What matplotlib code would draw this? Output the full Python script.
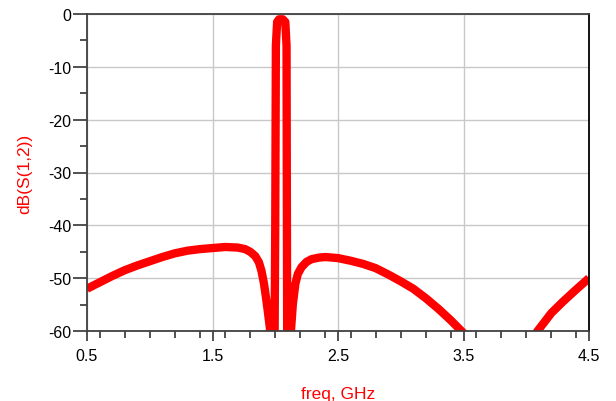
import numpy as np
import matplotlib.pyplot as plt
from matplotlib.ticker import MultipleLocator

# S(1,2), values under -60 are off the chart (clipped)
freq = [0.5, 0.6, 0.7, 0.8, 0.9, 1.0, 1.1, 1.2, 1.3, 1.4, 1.5, 1.6, 1.7,
        1.76, 1.80, 1.84, 1.87, 1.89, 1.91, 1.93, 1.95, 1.96, 1.975,
        1.995, 2.0, 2.005, 2.015, 2.03, 2.06, 2.08, 2.09, 2.092, 2.095,
        2.11, 2.125, 2.14, 2.16, 2.18, 2.21, 2.25, 2.29, 2.35, 2.40, 2.5,
        2.6, 2.7, 2.8, 2.9, 3.0, 3.1, 3.2, 3.3, 3.4, 3.5, 3.6, 3.8,
        4.0, 4.09, 4.2, 4.29, 4.4, 4.5]
db_s12 = [-52.0, -50.8, -49.6, -48.5, -47.6, -46.8, -46.0, -45.3, -44.8, -44.5,
          -44.3, -44.1, -44.2, -44.5, -45.0, -45.8, -47.0, -48.6, -51.0, -54.3,
          -58.0, -60.0, -70.0,
          -60.0, -40.0, -6.0, -1.5, -1.0, -1.0, -1.5, -6.0, -30.0, -60.0,
          -70.0, -60.0, -55.0, -51.1, -49.2, -47.9, -46.9, -46.4, -46.1, -46.0,
          -46.2, -46.7, -47.3, -48.1, -49.3, -50.6, -52.0, -53.8, -55.8, -58.0,
          -60.4, -63.0, -70.0,
          -63.0, -60.0, -56.6, -54.5, -52.1, -50.0]

xticks = [0.5, 1.5, 2.5, 3.5, 4.5]
yticks = [0, -10, -20, -30, -40, -50, -60]

plt.rcParams['font.family'] = ['Liberation Sans', 'DejaVu Sans']

fig = plt.figure(figsize=(6.16, 4.02), dpi=100)
ax = fig.add_axes([87/616, 1 - 332/402, (589-87)/616, (332-15)/402])

ax.plot(freq, db_s12, color='#ff0000', lw=6, solid_joinstyle='round',
        solid_capstyle='butt')

ax.set_xlim(0.5, 4.5)
ax.set_ylim(-60, 0)
ax.set_xticks(xticks)
ax.set_xticklabels([str(t) for t in xticks])
ax.set_yticks(yticks)
ax.set_yticklabels([str(t) for t in yticks])
ax.xaxis.set_minor_locator(MultipleLocator(0.2))
ax.yaxis.set_minor_locator(MultipleLocator(5))
ax.grid(True, which='major', color='#c8c8c8', lw=1)
ax.set_axisbelow(True)

ax.tick_params(which='major', direction='out', width=1.2, color='#333333',
               labelsize=11.5)
ax.tick_params(axis='x', which='major', length=7, pad=5)
ax.tick_params(axis='y', which='major', length=10, pad=1)
ax.tick_params(which='minor', direction='out', length=5, width=1.2,
               color='#333333')
for s in ax.spines.values():
    s.set_color('#404040')
    s.set_linewidth(1.3)
ax.spines['right'].set_color('black')

ax.set_xlabel('freq, GHz', color='#ff0000', fontsize=12.5, labelpad=17)
ax.set_ylabel('dB(S(1,2))', color='#ff0000', fontsize=12.5, labelpad=12)

fig.savefig('out.png', dpi=100)
